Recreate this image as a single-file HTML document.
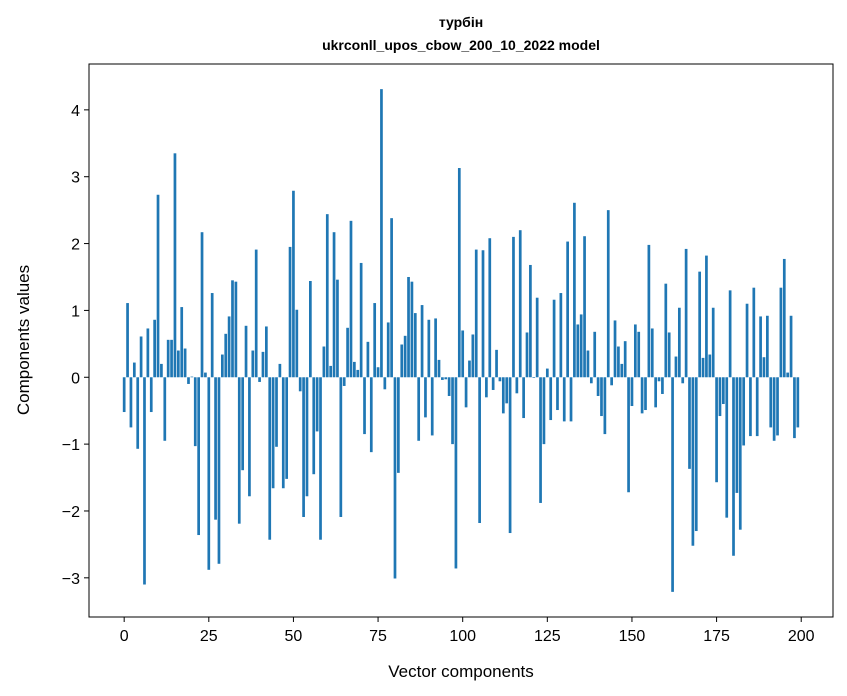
<!DOCTYPE html>
<html><head><meta charset="utf-8"><style>
body{margin:0;background:#fff;}
svg{display:block;font-family:"Liberation Sans","DejaVu Sans",sans-serif;}
</style></head><body>
<svg id="chart" width="847" height="696">
<rect width="847" height="696" fill="#fff"/>
<text x="461" y="27" text-anchor="middle" font-size="14" font-weight="bold">турбін</text>
<text x="461" y="50" text-anchor="middle" font-size="14" font-weight="bold">ukrconll_upos_cbow_200_10_2022 model</text>
<g id="bars"></g>
<g id="xticks"></g>
<g id="yticks"></g>
<rect x="89" y="64" width="744" height="553" fill="none" stroke="#000" stroke-width="1"/>
<text x="461" y="677" text-anchor="middle" font-size="17">Vector components</text>
<text transform="translate(29,340) rotate(-90)" text-anchor="middle" font-size="17">Components values</text>
</svg>
<script>
const values = [-0.52,1.11,-0.75,0.22,-1.07,0.61,-3.10,0.73,-0.52,0.86,2.73,0.2,-0.95,0.56,0.56,3.35,0.4,1.05,0.43,-0.1,
0.01,-1.03,-2.36,2.17,0.07,-2.88,1.26,-2.13,-2.79,0.34,0.65,0.91,1.45,1.43,-2.19,-1.39,0.77,-1.78,0.4,1.91,
-0.07,0.38,0.76,-2.43,-1.66,-1.04,0.2,-1.66,-1.52,1.95,2.79,1.01,-0.21,-2.09,-1.78,1.44,-1.45,-0.81,-2.43,0.46,
2.44,0.17,2.17,1.46,-2.09,-0.13,0.74,2.34,0.23,0.11,1.71,-0.85,0.53,-1.12,1.11,0.15,4.31,-0.18,0.82,2.38,
-3.01,-1.43,0.49,0.62,1.50,1.43,0.96,-0.95,1.08,-0.6,0.86,-0.87,0.88,0.26,-0.04,-0.03,-0.28,-1.0,-2.86,3.13,
0.70,-0.45,0.25,0.64,1.91,-2.18,1.90,-0.3,2.08,-0.19,0.41,-0.06,-0.54,-0.39,-2.33,2.10,-0.24,2.20,-0.61,0.67,
1.68,-0.01,1.19,-1.88,-1.0,0.13,-0.64,1.16,-0.49,1.26,-0.66,2.03,-0.66,2.61,0.79,0.94,2.11,0.4,-0.09,0.68,
-0.28,-0.58,-0.85,2.50,-0.12,0.85,0.46,0.2,0.54,-1.72,-0.43,0.79,0.68,-0.54,-0.49,1.98,0.73,-0.45,-0.06,-0.25,
1.40,0.67,-3.21,0.31,1.04,-0.09,1.92,-1.37,-2.52,-2.30,1.58,0.29,1.82,0.34,1.04,-1.57,-0.58,-0.4,-2.10,1.30,
-2.67,-1.73,-2.28,-1.02,1.10,-0.88,1.34,-0.88,0.91,0.3,0.92,-0.75,-0.95,-0.87,1.34,1.77,0.07,0.92,-0.91,-0.75];
const xTicks = [0,25,50,75,100,125,150,175,200];
const yTicks = [-3,-2,-1,0,1,2,3,4];
const yTickLabels = ["\u22123","\u22122","\u22121","0","1","2","3","4"];

const NS="http://www.w3.org/2000/svg";
const L=89,R=833,T=64,B=617;
const n=values.length;
const xmin=-0.4-0.05*(n-0.2), xmax=(n-1)+0.4+0.05*(n-0.2);
const vmin=Math.min(0,...values), vmax=Math.max(0,...values);
const ymin=vmin-0.05*(vmax-vmin), ymax=vmax+0.05*(vmax-vmin);
const sx=v=>L+(v-xmin)/(xmax-xmin)*(R-L);
const sy=v=>B-(v-ymin)/(ymax-ymin)*(B-T);
const gb=document.getElementById('bars');
values.forEach((v,i)=>{
  const r=document.createElementNS(NS,'rect');
  const x0=sx(i-0.4), x1=sx(i+0.4);
  r.setAttribute('x',x0); r.setAttribute('width',x1-x0);
  r.setAttribute('y',Math.min(sy(v),sy(0))); r.setAttribute('height',Math.abs(sy(v)-sy(0)));
  r.setAttribute('fill','#1f77b4');
  
  
  gb.appendChild(r);
});
const gx=document.getElementById('xticks');
xTicks.forEach(t=>{
  const x=sx(t);
  const l=document.createElementNS(NS,'line');
  l.setAttribute('x1',x);l.setAttribute('x2',x);l.setAttribute('y1',B);l.setAttribute('y2',B+5);l.setAttribute('stroke','#000');
  
  
  gx.appendChild(l);
  const tx=document.createElementNS(NS,'text');
  tx.setAttribute('x',x);tx.setAttribute('y',B+24);tx.setAttribute('text-anchor','middle');tx.setAttribute('font-size','16');
  tx.textContent=t;
  
  
  gx.appendChild(tx);
});
const gy=document.getElementById('yticks');
yTicks.forEach((t,i)=>{
  const y=sy(t);
  const l=document.createElementNS(NS,'line');
  l.setAttribute('x1',L-5);l.setAttribute('x2',L);l.setAttribute('y1',y);l.setAttribute('y2',y);l.setAttribute('stroke','#000');
  
  
  gy.appendChild(l);
  const tx=document.createElementNS(NS,'text');
  tx.setAttribute('x',L-9);tx.setAttribute('y',y+6);tx.setAttribute('text-anchor','end');tx.setAttribute('font-size','16');
  tx.textContent=yTickLabels[i];
  
  
  gy.appendChild(tx);
});
</script>
</body></html>
